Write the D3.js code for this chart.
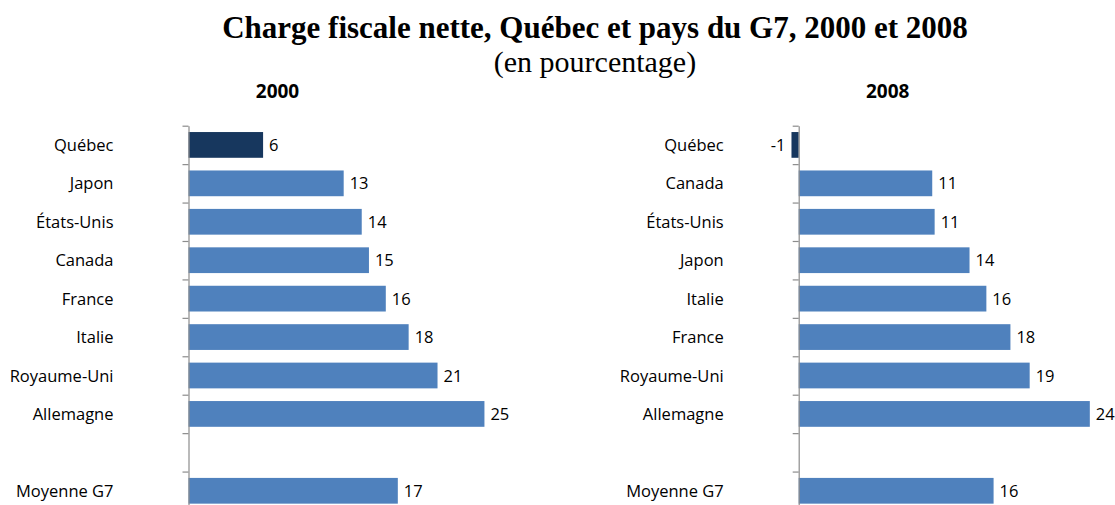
<!DOCTYPE html>
<html>
<head>
<meta charset="utf-8">
<script src="https://cdn.jsdelivr.net/npm/d3@7"></script>
<style>
  body { margin: 0; background: #fff; }
  svg { display: block; }
</style>
</head>
<body>
<svg id="chart" width="1115" height="505"></svg>
<script>
// data, top to bottom ("" = empty row before the G7 average)
var cats2000 = ["Québec", "Japon", "États-Unis", "Canada", "France", "Italie", "Royaume-Uni", "Allemagne", "", "Moyenne G7"];
var vals2000 = [6.2, 12.9, 14.4, 15.0, 16.4, 18.3, 20.7, 24.6, null, 17.4];

var cats2008 = ["Québec", "Canada", "États-Unis", "Japon", "Italie", "France", "Royaume-Uni", "Allemagne", "", "Moyenne G7"];
var vals2008 = [-0.6, 11.1, 11.3, 14.2, 15.6, 17.6, 19.2, 24.2, null, 16.2];

var highlight = "Québec";

var svg = d3.select("#chart");

svg.append("text")
    .attr("x", 595).attr("y", 38)
    .attr("text-anchor", "middle")
    .style("font-family", "'Liberation Serif', 'Times New Roman', serif")
    .style("font-weight", "bold")
    .style("font-size", "31px")
    .text("Charge fiscale nette, Québec et pays du G7, 2000 et 2008");

svg.append("text")
    .attr("x", 595).attr("y", 72)
    .attr("text-anchor", "middle")
    .style("font-family", "'Liberation Serif', 'Times New Roman', serif")
    .style("font-size", "30px")
    .text("(en pourcentage)");

function drawPanel(title, cats, vals, x0, domain) {
    var pxPerUnit = 12.03;
    var x = d3.scaleLinear()
        .domain(domain)
        .range([x0 + domain[0] * pxPerUnit, x0 + domain[1] * pxPerUnit]);

    var y = d3.scaleBand()
        .domain(cats.map(function(d, i) { return i; }))
        .range([125.7, 510])
        .paddingInner(0.33)
        .paddingOuter(0.165);

    var g = svg.append("g");

    g.append("text")
        .attr("x", x0 + 89).attr("y", 98)
        .attr("text-anchor", "middle")
        .style("font-family", "'Open Sans', sans-serif")
        .style("font-weight", "bold")
        .style("font-size", "19px")
        .style("fill", "#000")
        .text(title);

    var rows = cats.map(function(c, i) { return { cat: c, value: vals[i], i: i }; })
        .filter(function(d) { return d.value !== null; });

    g.selectAll("rect.bar")
        .data(rows)
        .enter().append("rect")
        .attr("class", "bar")
        .attr("x", function(d) { return x(Math.min(0, d.value)); })
        .attr("y", function(d) { return y(d.i); })
        .attr("width", function(d) { return Math.abs(x(d.value) - x(0)); })
        .attr("height", y.bandwidth())
        .attr("fill", function(d) { return d.cat == highlight ? "#17375E" : "#4F81BD"; });

    // category axis: ticks sit between the rows
    var edges = d3.scaleLinear().domain([0, cats.length]).range(y.range());
    g.append("g")
        .attr("transform", "translate(" + x(0) + ",0)")
        .call(d3.axisLeft(edges)
            .tickValues(d3.range(0, cats.length + 1))
            .tickFormat("")
            .tickSize(6)
            .tickSizeOuter(0))
        .call(function(a) {
            a.selectAll("path, line").attr("stroke", "#8C8C8C").attr("stroke-width", 1.2);
        });

    g.selectAll("text.cat")
        .data(rows)
        .enter().append("text")
        .attr("class", "cat")
        .attr("x", x(0) - 75)
        .attr("y", function(d) { return y(d.i) + y.bandwidth() / 2; })
        .attr("dy", "0.37em")
        .attr("text-anchor", "end")
        .style("font-family", "'Open Sans', sans-serif")
        .style("font-size", "16.5px")
        .style("fill", "#000")
        .text(function(d) { return d.cat; });

    g.selectAll("text.val")
        .data(rows)
        .enter().append("text")
        .attr("class", "val")
        .attr("x", function(d) { return d.value < 0 ? x(d.value) - 6 : x(d.value) + 6; })
        .attr("y", function(d) { return y(d.i) + y.bandwidth() / 2; })
        .attr("dy", "0.37em")
        .attr("text-anchor", function(d) { return d.value < 0 ? "end" : "start"; })
        .style("font-family", "'Open Sans', sans-serif")
        .style("font-size", "16.5px")
        .style("fill", "#000")
        .text(function(d) { return Math.round(d.value); });
}

drawPanel("2000", cats2000, vals2000, 188.5, [0, 28]);
drawPanel("2008", cats2008, vals2008, 798.7, [-2, 26]);
</script>
</body>
</html>
